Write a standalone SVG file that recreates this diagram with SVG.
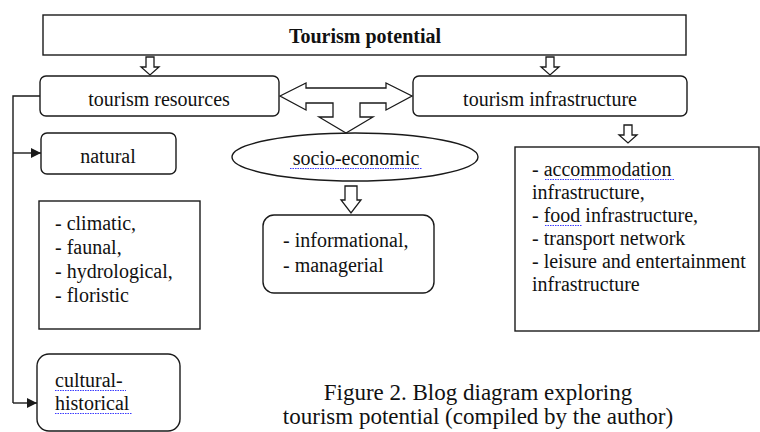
<svg xmlns="http://www.w3.org/2000/svg" width="760" height="432" viewBox="0 0 760 432">
<style>
.box{fill:#fff;stroke:#1a1a1a;stroke-width:1.4}
.t{font-family:"Liberation Serif","Times New Roman",serif;font-size:20px;fill:#111}
.b{font-weight:bold}
.c{text-anchor:middle}
.cap{font-size:23px}
.hol{fill:#fff;stroke:#1a1a1a;stroke-width:1.3;stroke-linejoin:miter}
.ln{fill:none;stroke:#1a1a1a;stroke-width:1.4}
.sp{fill:none;stroke:#3b3bff;stroke-width:1.2;stroke-dasharray:1.5 1}
</style>
<defs>
<path id="dn" d="M-4,0 H4 V10 H9 L0,18 L-9,10 H-4 Z"/>
<marker id="ah" markerWidth="10" markerHeight="10" refX="10" refY="5" orient="auto" markerUnits="userSpaceOnUse">
<path d="M0,0 L10,5 L0,10 Z" fill="#1a1a1a"/>
</marker>
</defs>
<rect width="760" height="432" fill="#fff"/>

<g id="connectors">
<use href="#dn" class="hol" x="150" y="57"/>
<use href="#dn" class="hol" x="550" y="57"/>
<use href="#dn" class="hol" x="628" y="125"/>
<path class="hol" d="M345,186 H357 V200 H361 L351,213 L341,200 H345 Z"/>
<path class="hol" d="M280,96 L306,83 V88 H386 V83 L412,96 L386,110 V103 H360 V117 H373 L346,133 L319,117 H333 V103 H306 V110 Z"/>
<path class="ln" d="M40,96 H13 V403"/>
<path class="ln" d="M13,153 H41" marker-end="url(#ah)"/>
<path class="ln" d="M13,403 H37" marker-end="url(#ah)"/>
</g>

<g id="tourism-potential">
<rect class="box" x="43" y="15" width="643" height="40"/>
<text class="t b c" x="365" y="43">Tourism potential</text>
</g>

<g id="tourism-resources">
<rect class="box" x="40" y="76" width="239" height="40" rx="6"/>
<text class="t c" x="159" y="106">tourism resources</text>
</g>

<g id="tourism-infrastructure">
<rect class="box" x="413" y="76" width="274" height="40" rx="6"/>
<text class="t c" x="550" y="106">tourism infrastructure</text>
</g>

<g id="natural">
<rect class="box" x="41" y="133" width="135" height="41" rx="6"/>
<text class="t c" x="108" y="163">natural</text>
</g>

<g id="natural-list">
<rect class="box" x="39" y="201" width="161" height="128"/>
<text class="t" x="55" y="230">- climatic,</text>
<text class="t" x="55" y="254">- faunal,</text>
<text class="t" x="55" y="278">- hydrological,</text>
<text class="t" x="55" y="302">- floristic</text>
</g>

<g id="cultural-historical">
<rect class="box" x="37" y="354" width="143" height="77" rx="12"/>
<text class="t" x="55" y="387">cultural-</text>
<text class="t" x="55" y="410">historical</text>
<path class="sp" d="M55,390.5 H126"/>
<path class="sp" d="M55,413.5 H132"/>
</g>

<g id="socio-economic">
<ellipse class="box" cx="355" cy="157" rx="123" ry="24"/>
<text class="t c" x="356" y="165">socio-economic</text>
<path class="sp" d="M290,168.5 H422"/>
</g>

<g id="socio-list">
<rect class="box" x="263" y="215" width="171" height="78" rx="11"/>
<text class="t" x="283" y="247">- informational,</text>
<text class="t" x="283" y="272">- managerial</text>
</g>

<g id="infrastructure-list">
<rect class="box" x="515" y="147" width="244" height="184"/>
<text class="t" x="532" y="176">- accommodation</text>
<text class="t" x="532" y="199">infrastructure,</text>
<text class="t" x="532" y="222">- food infrastructure,</text>
<text class="t" x="532" y="245">- transport network</text>
<text class="t" x="532" y="268">- leisure and entertainment</text>
<text class="t" x="532" y="291">infrastructure</text>
<path class="sp" d="M545,179.5 H675"/>
<path class="sp" d="M545,225.5 H582"/>
</g>

<g id="caption">
<text class="t c cap" x="478" y="400">Figure 2. Blog diagram exploring</text>
<text class="t c cap" x="478" y="424">tourism potential (compiled by the author)</text>
</g>
</svg>
